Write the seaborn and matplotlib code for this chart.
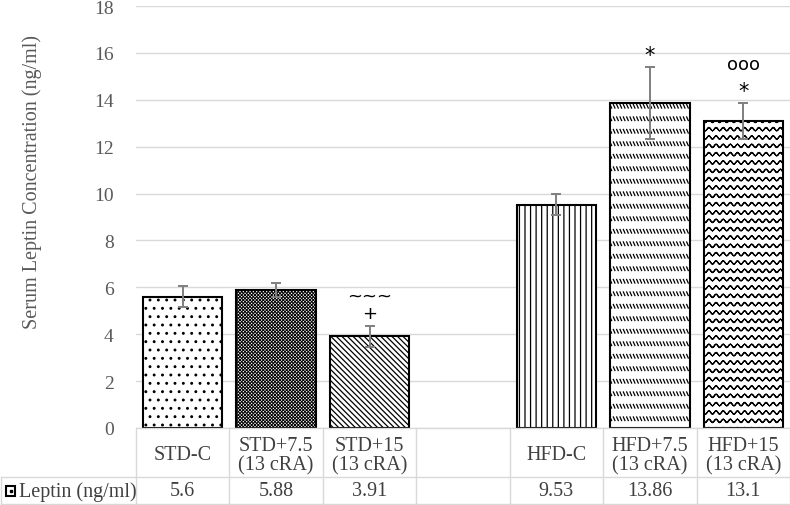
import warnings

import numpy as np
import pandas as pd
import matplotlib
matplotlib.use('Agg')
import matplotlib.pyplot as plt
import matplotlib.hatch as mhatch
import matplotlib.transforms as mtransforms
from matplotlib.path import Path
from matplotlib.patches import Rectangle
from matplotlib.lines import Line2D
import seaborn as sns

warnings.filterwarnings('ignore')

# Data
groups = ['STD-C', 'STD+7.5', 'STD+15', 'HFD-C', 'HFD+7.5', 'HFD+15']
group_labels = ['STD-C', 'STD+7.5\n(13 cRA)', 'STD+15\n(13 cRA)',
                'HFD-C', 'HFD+7.5\n(13 cRA)', 'HFD+15\n(13 cRA)']
leptin = [5.6, 5.88, 3.91, 9.53, 13.86, 13.1]
value_labels = ['5.6', '5.88', '3.91', '9.53', '13.86', '13.1']
err = [0.45, 0.30, 0.44, 0.45, 1.54, 0.76]
marks_low = ['', '', '+', '', '*', '*']
marks_high = ['', '', '~~~', '', '', 'ooo']
hatches = ['..', 'xxxxxxxxxx', '\\\\\\\\\\\\', '|||', ',,', '~~']


# extra hatch patterns: wavy lines ('~') and rows of short dashes (',')
class WaveHatch(mhatch.HatchPatternBase):
    def __init__(self, hatch, density):
        self.num_rows = hatch.count('~') * 6
        self.num_waves = 14
        self.seg = 8
        self.num_vertices = self.num_rows * self.num_waves * self.seg * 2

    def set_vertices_and_codes(self, vertices, codes):
        t = np.linspace(0, 1, self.num_waves * self.seg + 1)
        chunks = []
        for y0 in (np.arange(self.num_rows) + 0.5) / self.num_rows:
            pts = np.column_stack([t, y0 + 0.016 * np.sin(2 * np.pi * self.num_waves * t)])
            chunks.append(np.stack([pts[:-1], pts[1:]], axis=1).reshape(-1, 2))
        vertices[:] = np.concatenate(chunks)
        codes[0::2] = Path.MOVETO
        codes[1::2] = Path.LINETO


class DashRowHatch(mhatch.HatchPatternBase):
    def __init__(self, hatch, density):
        self.num_rows = hatch.count(',') * 4
        self.num_dash = 30
        self.num_vertices = self.num_rows * self.num_dash * 2

    def set_vertices_and_codes(self, vertices, codes):
        xs = np.arange(self.num_dash) / self.num_dash
        ys = (np.arange(self.num_rows) + 0.5) / self.num_rows
        X, Y = np.meshgrid(xs, ys)
        X, Y = X.ravel(), Y.ravel()
        vertices[0::2, 0] = X
        vertices[0::2, 1] = Y + 0.018
        vertices[1::2, 0] = X + 0.016
        vertices[1::2, 1] = Y - 0.018
        codes[0::2] = Path.MOVETO
        codes[1::2] = Path.LINETO


mhatch._hatch_types.extend([WaveHatch, DashRowHatch])
mhatch._validate_hatch_pattern = lambda h: None

order = groups[:3] + ['gap'] + groups[3:]
df = pd.DataFrame({'group': groups, 'leptin': leptin})

sns.set_style('white')
plt.rcParams['font.family'] = ['Liberation Serif', 'DejaVu Serif']
plt.rcParams['hatch.linewidth'] = 0.9

fig = plt.figure(figsize=(7.9, 5.06), dpi=100)
ax = fig.add_axes([136 / 790, 1 - 429 / 506, 654 / 790, 422 / 506])

sns.barplot(data=df, x='group', y='leptin', order=order, color='white',
            edgecolor='black', linewidth=1.5, width=0.85, errorbar=None,
            saturation=1, ax=ax)

for patch in ax.patches:
    pos = int(round(patch.get_x() + patch.get_width() / 2))
    i = groups.index(order[pos])
    patch.set_hatch(hatches[i])
    patch.set_facecolor('white')
    patch.set_edgecolor('black')
    if hatches[i].startswith('x') and hasattr(patch, 'set_hatch_linewidth'):
        patch.set_hatch_linewidth(0.7)

xpos = [order.index(g) for g in groups]
ax.errorbar(xpos, leptin, yerr=err, fmt='none', ecolor='#7f7f7f',
            elinewidth=1.4, capsize=3.3, capthick=1.4, zorder=5)

# significance marks above the error bars (offsets in pixels)
low_off = {'+': 8, '*': 6}
low_size = {'+': 13, '*': 15}
high_off = {'~~~': 26, 'ooo': 34}
for x, v, e, lo, hi in zip(xpos, leptin, err, marks_low, marks_high):
    if lo:
        ax.annotate(lo, (x, v + e), xytext=(0, low_off[lo]),
                    textcoords='offset pixels', ha='center', va='baseline',
                    fontsize=low_size[lo], family='DejaVu Sans', color='black')
    if hi:
        ax.annotate(hi, (x, v + e), xytext=(0, high_off[hi]),
                    textcoords='offset pixels', ha='center', va='baseline',
                    fontsize=13, family='DejaVu Sans', color='black')

ax.set_ylim(0, 18)
ax.set_xlim(-0.5, 6.5)
ax.set_yticks(range(0, 19, 2))
ax.yaxis.grid(True, color='#d9d9d9', lw=1)
ax.set_axisbelow(True)
for s in ax.spines.values():
    s.set_visible(False)
ax.tick_params(axis='y', length=0, labelsize=14, labelcolor='#595959', pad=16)
ax.set_xticks([])
ax.set_xlabel('')
ax.set_ylabel('Serum Leptin Concentration (ng/ml)', fontsize=14.5, color='#595959')
ax.yaxis.set_label_coords((42 - 136) / 654, (429 - 182) / 422)

# data table under the plot
def ay(py):
    return (429 - py) / 422

def axx(px):
    return (px - 136) / 654

blend = mtransforms.blended_transform_factory(ax.transData, ax.transAxes)
line_kw = dict(color='#d9d9d9', lw=1, clip_on=False)

ax.add_line(Line2D([-0.5, 6.5], [0, 0], transform=blend, **line_kw))
for py in (478, 505):
    ax.add_line(Line2D([axx(1), 1], [ay(py), ay(py)], transform=ax.transAxes, **line_kw))
for b in np.arange(-0.5, 7.0, 1.0):
    ax.add_line(Line2D([b, b], [0, ay(505)], transform=blend, **line_kw))
ax.add_line(Line2D([axx(1), axx(1)], [ay(478), ay(505)], transform=ax.transAxes, **line_kw))

for x, lab, val in zip(xpos, group_labels, value_labels):
    ax.text(x, ay(456), lab, transform=blend, ha='center', va='center',
            fontsize=14.5, color='#404040', linespacing=1.05)
    ax.text(x, ay(492), val, transform=blend, ha='center', va='center',
            fontsize=14.5, color='#404040')

ax.add_patch(Rectangle((axx(6), ay(497)), axx(15) - axx(6), ay(487) - ay(497),
                       transform=ax.transAxes, facecolor='white', edgecolor='black',
                       lw=1.5, clip_on=False))
ax.plot([axx(10.5)], [ay(492)], 's', ms=1.6, color='black',
        transform=ax.transAxes, clip_on=False)
ax.text(axx(19), ay(492), 'Leptin (ng/ml)', transform=ax.transAxes, ha='left',
        va='center', fontsize=14.5, color='#404040')

fig.savefig('out.png', dpi=100)
